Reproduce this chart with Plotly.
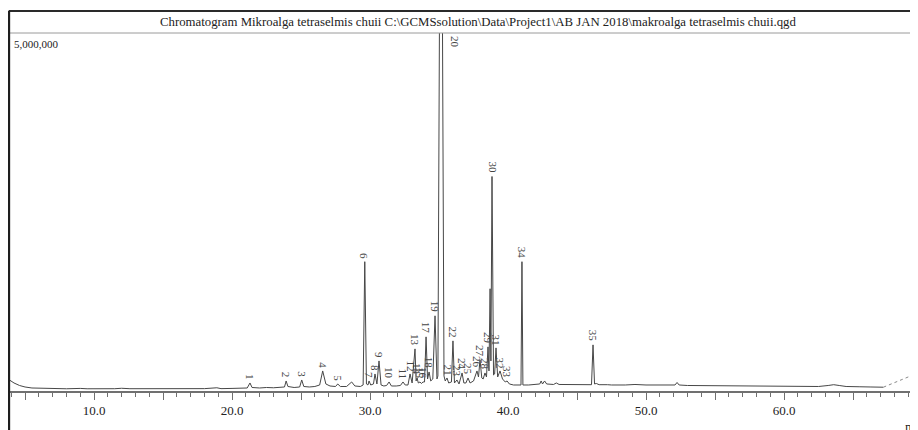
import plotly.graph_objects as go

# ---------------- data (retention time in min, intensity in counts) ----------------
trace_time = [3.9, 4.2, 4.6, 5.0, 5.5, 6.5, 8.0, 9.0, 9.5, 11.5, 12.0, 12.6, 14.0, 15.0, 16.0,
              18.0, 18.9, 19.2, 20.0, 20.6, 21.1, 21.3, 21.45, 22.0, 22.5, 23.0, 23.5, 23.8,
              23.92, 24.05, 24.5, 24.9, 25.05, 25.2, 25.6, 26.0, 26.35, 26.57, 26.8, 27.1,
              27.5, 27.66, 27.85, 28.3, 28.67, 28.9, 29.3, 29.5, 29.62, 29.74, 29.85, 29.93,
              30.05, 30.25, 30.36, 30.5, 30.65, 30.8, 31.0, 31.2, 31.38, 31.55, 31.9, 32.2,
              32.39, 32.55, 32.75, 32.9, 33.05, 33.26, 33.34, 33.41, 33.5, 33.62, 33.72, 33.84,
              33.95, 34.06, 34.17, 34.28, 34.4, 34.55, 34.71, 34.85, 34.92, 35.14, 35.36, 35.45,
              35.58, 35.7, 35.9, 36.01, 36.12, 36.3, 36.45, 36.67, 36.8, 36.95, 37.1, 37.25,
              37.5, 37.75, 37.86, 37.97, 38.1, 38.2, 38.33, 38.44, 38.55, 38.62, 38.7, 38.76,
              38.84, 38.95, 39.03, 39.13, 39.25, 39.42, 39.6, 39.8, 39.93, 40.1, 40.4, 40.8,
              40.94, 41.01, 41.08, 41.5, 42.0, 42.3, 42.4, 42.5, 42.65, 42.8, 43.3, 43.5, 43.7,
              44.5, 45.0, 45.5, 46.05, 46.16, 46.27, 46.4, 46.6, 47.2, 47.5, 48.5, 49.2, 50.0,
              51.0, 52.1, 52.25, 52.4, 53.0, 55.0, 57.0, 59.0, 61.0, 62.5, 63.2, 63.6, 64.0,
              64.5, 65.5, 66.0, 66.3, 67.2]
trace_intensity = [150000, 112000, 77000, 56000, 42000, 35000, 31000, 36000, 31000, 32000, 38000,
                   32000, 31000, 36000, 31000, 33000, 45000, 33000, 36000, 39000, 42000, 112000,
                   49000, 42000, 49000, 45000, 50000, 56000, 140000, 63000, 49000, 56000, 154000,
                   63000, 56000, 63000, 84000, 280000, 98000, 70000, 63000, 98000, 63000, 63000,
                   126000, 70000, 63000, 84000, 1806000, 98000, 84000, 140000, 84000, 98000,
                   238000, 98000, 420000, 84000, 70000, 77000, 126000, 70000, 70000, 77000,
                   126000, 84000, 84000, 238000, 112000, 588000, 140000, 182000, 112000, 126000,
                   105000, 126000, 126000, 756000, 168000, 266000, 140000, 168000, 1050000,
                   168000, 210000, 10000000, 210000, 140000, 182000, 112000, 126000, 700000,
                   112000, 154000, 98000, 252000, 112000, 112000, 182000, 112000, 140000, 280000,
                   196000, 434000, 182000, 168000, 252000, 196000, 616000, 280000, 1428000,
                   420000, 2996000, 224000, 238000, 602000, 196000, 280000, 168000, 126000,
                   140000, 98000, 84000, 77000, 84000, 1806000, 84000, 84000, 91000, 98000,
                   140000, 98000, 140000, 98000, 91000, 112000, 91000, 91000, 88000, 88000,
                   88000, 644000, 98000, 105000, 88000, 88000, 84000, 84000, 91000, 84000, 81000,
                   84000, 119000, 84000, 77000, 74000, 70000, 67000, 64000, 63000, 77000, 88000,
                   77000, 63000, 59000, 63000, 56000, 53000]

# dotted continuation at the end of the run
tail_time = [67.2, 70.5]
tail_intensity = [53000, 315000]

peak_labels = [str(i) for i in range(1, 36)]
peak_time = [21.3, 23.92, 25.05, 26.57, 27.66, 29.62, 29.93, 30.36, 30.65, 31.38, 32.39, 32.9,
             33.26, 33.41, 33.62, 33.84, 34.06, 34.28, 34.71, 35.14, 35.58, 36.01, 36.3, 36.67,
             37.1, 37.75, 37.97, 38.33, 38.55, 38.84, 39.13, 39.42, 39.93, 41.01, 46.16]
peak_height = [112000, 140000, 154000, 280000, 98000, 1806000, 140000, 238000, 420000, 126000,
               126000, 238000, 588000, 182000, 126000, 126000, 756000, 266000, 1050000, 10000000,
               182000, 700000, 154000, 252000, 182000, 280000, 434000, 252000, 616000, 2996000,
               602000, 280000, 140000, 1806000, 644000]

y_full_scale = 5000000
x_range = [3.91, 69.71]
tick_vals = [5, 10, 15, 20, 25, 30, 35, 40, 45, 50, 55, 60, 65, 70]
tick_text = ["", "10.0", "", "20.0", "", "30.0", "", "40.0", "", "50.0", "", "60.0", "", "70.0"]

title_text = ("Chromatogram Mikroalga tetraselmis chuii C:\\GCMSsolution\\Data\\Project1\\"
              "AB JAN 2018\\makroalga tetraselmis chuii.qgd")

SERIF = "Liberation Serif, Times New Roman, serif"

# ---------------- figure ----------------
fig = go.Figure()
fig.add_trace(go.Scatter(x=trace_time, y=trace_intensity, mode="lines",
                         line=dict(color="#474747", width=1), hoverinfo="skip"))
fig.add_trace(go.Scatter(x=tail_time, y=tail_intensity, mode="lines",
                         line=dict(color="#8a8a8a", width=1, dash="dot"), hoverinfo="skip"))

annotations = []
for lab, t, h in zip(peak_labels, peak_time, peak_height):
    if h >= y_full_scale:
        annotations.append(dict(x=t, y=1, xref="x", yref="paper", text=lab, showarrow=False,
                                textangle=90, xanchor="center", yanchor="top", xshift=14,
                                yshift=-1, font=dict(family=SERIF, size=11, color="#444")))
    else:
        annotations.append(dict(x=t, y=h, xref="x", yref="y", text=lab, showarrow=False,
                                textangle=90, xanchor="center", yanchor="bottom", yshift=1,
                                font=dict(family=SERIF, size=11, color="#444")))

annotations.append(dict(x=0.5154, y=1.0307, xref="paper", yref="paper", text=title_text,
                        showarrow=False, xanchor="center", yanchor="middle",
                        font=dict(family=SERIF, size=12.8, color="#222")))
annotations.append(dict(x=0.0022, y=0.9916, xref="paper", yref="paper", text="5,000,000",
                        showarrow=False, xanchor="left", yanchor="top",
                        font=dict(family=SERIF, size=11, color="#222")))
annotations.append(dict(x=1.0044, y=-0.053, xref="paper", yref="paper", text=tick_text[-1],
                        showarrow=False, xanchor="center", yanchor="middle",
                        font=dict(family=SERIF, size=13, color="#222")))
annotations.append(dict(x=0.9835, y=-0.098, xref="paper", yref="paper", text="min",
                        showarrow=False, xanchor="left", yanchor="middle",
                        font=dict(family=SERIF, size=13, color="#222")))

shapes = [
    # outer top border
    dict(type="line", xref="paper", yref="paper", x0=-0.0012, x1=1.0, y0=1.0615, y1=1.0615,
         line=dict(color="#2a2a2a", width=2)),
    # line under the title
    dict(type="line", xref="paper", yref="paper", x0=0, x1=1.0, y0=1.0, y1=1.0,
         line=dict(color="#9a9a9a", width=1)),
    # outer left border
    dict(type="line", xref="paper", yref="paper", x0=-0.0012, x1=-0.0012, y0=1.0625, y1=-0.12,
         line=dict(color="#1e1e1e", width=2.5)),
]

# the page places the figure 8 px in from the top-left corner, so the figure is
# sized to end exactly at the window edge
fig.update_layout(
    width=910, height=422,
    margin=dict(l=2, r=0, t=25, b=39),
    paper_bgcolor="white", plot_bgcolor="white",
    showlegend=False,
    annotations=annotations,
    shapes=shapes,
    xaxis=dict(range=x_range, showgrid=False, zeroline=False, showline=True,
               linecolor="#707070", linewidth=1.5,
               tickmode="array", tickvals=tick_vals, ticktext=tick_text,
               ticks="outside", ticklen=7, tickwidth=1, tickcolor="#707070",
               tickfont=dict(family=SERIF, size=13, color="#222"),
               minor=dict(tickmode="linear", tick0=0, dtick=1, ticks="outside", ticklen=4,
                          tickwidth=1, tickcolor="#707070", showgrid=False)),
    yaxis=dict(range=[0, y_full_scale], visible=False, showgrid=False, zeroline=False),
)

fig.write_html("out.html")
